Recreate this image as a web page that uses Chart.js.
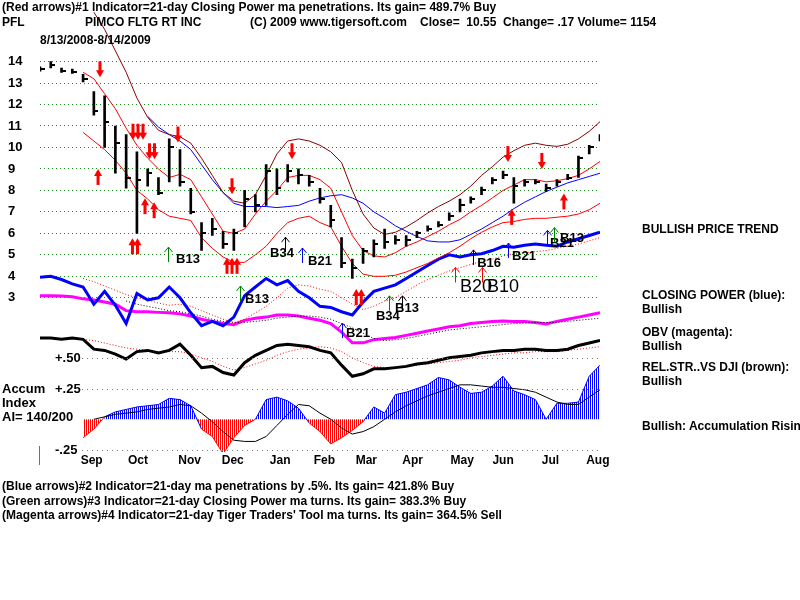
<!DOCTYPE html>
<html>
<head>
<meta charset="utf-8">
<script src="https://cdn.jsdelivr.net/npm/chart.js@4/dist/chart.umd.min.js"></script>
<style>
body { margin: 0; background: #fff; }
#wrap { position: relative; width: 800px; height: 600px; overflow: hidden; font: bold 12px "Liberation Sans", Arial, sans-serif; color: #000; }
#wrap canvas { position: absolute; left: 0; top: 0; }
.t { position: absolute; white-space: pre; line-height: 13px; }
.big { font-size: 13px; line-height: 14px; }
</style>
</head>
<body>
<div id="wrap">
<canvas id="chart" width="800" height="600"></canvas>
<div class="t" style="left:2px;top:1px">(Red arrows)#1 Indicator=21-day Closing Power ma penetrations. Its gain= 489.7% Buy</div>
<div class="t" style="left:2px;top:16px">PFL</div>
<div class="t" style="left:85px;top:16px">PIMCO FLTG RT INC</div>
<div class="t" style="left:250px;top:16px">(C) 2009 www.tigersoft.com</div>
<div class="t" style="left:420px;top:16px">Close=  10.55  Change= .17 Volume= 1154</div>
<div class="t" style="left:40px;top:34px">8/13/2008-8/14/2009</div>

<div class="t" style="left:642px;top:223px">BULLISH PRICE TREND</div>
<div class="t" style="left:642px;top:289px">CLOSING POWER (blue):</div>
<div class="t" style="left:642px;top:303px">Bullish</div>
<div class="t" style="left:642px;top:326px">OBV (magenta):</div>
<div class="t" style="left:642px;top:340px">Bullish</div>
<div class="t" style="left:642px;top:361px">REL.STR..VS DJI (brown):</div>
<div class="t" style="left:642px;top:375px">Bullish</div>
<div class="t" style="left:642px;top:420px">Bullish: Accumulation Rising</div>

<div class="t big" style="left:2px;top:382px">Accum</div>
<div class="t big" style="left:2px;top:396px">Index</div>
<div class="t big" style="left:2px;top:410px">AI= 140/200</div>
<div style="position:absolute;left:39px;top:446px;width:1px;height:19px;background:#808000"></div>

<div class="t" style="left:2px;top:480px">(Blue arrows)#2 Indicator=21-day ma penetrations by .5%. Its gain= 421.8% Buy</div>
<div class="t" style="left:2px;top:495px">(Green arrows)#3 Indicator=21-day Closing Power ma turns. Its gain= 383.3% Buy</div>
<div class="t" style="left:2px;top:509px">(Magenta arrows)#4 Indicator=21-day Tiger Traders' Tool ma turns. Its gain= 364.5% Sell</div>
</div>

<script>
Chart.defaults.font.family = '"Liberation Sans", Arial, sans-serif';

// week index from 8/13/2008 to 8/12/2009
const weeks = [0,1,2,3,4,5,6,7,8,9,10,11,12,13,14,15,16,17,18,19,20,21,22,23,24,25,26,
  27,28,29,30,31,32,33,34,35,36,37,38,39,40,41,42,43,44,45,46,47,48,49,50,51,52]
const monthNames = ['Sep','Oct','Nov','Dec','Jan','Feb','Mar','Apr','May','Jun','Jul','Aug']
const monthPos = [4.8, 9.1, 13.9, 17.9, 22.3, 26.4, 30.3, 34.6, 39.2, 43.0, 47.4, 51.8]
const priceTicks = [3,4,5,6,7,8,9,10,11,12,13,14]

const priceHigh = [13.75,14.0,13.7,13.65,13.4,12.6,12.4,11.0,10.6,9.8,9.0,8.6,10.4,9.9,8.1,6.5,6.7,6.1,6.2,8.0,7.8,9.2,9.0,9.2,9.0,8.7,
  8.1,7.3,5.8,4.8,5.3,5.7,6.2,5.9,5.9,6.1,6.35,6.55,6.95,7.6,7.7,8.15,8.6,8.9,8.6,8.5,8.5,8.3,8.5,8.75,9.6,10.1,10.6]
const priceLow = [13.55,13.7,13.5,13.45,13.05,11.5,10.0,8.8,8.1,6.0,8.2,7.8,8.4,8.2,6.9,5.2,5.9,5.3,5.2,6.3,7.0,7.3,7.8,8.4,8.3,8.2,
  7.4,6.3,4.4,3.9,4.6,4.9,5.3,5.5,5.4,5.8,6.1,6.3,6.6,7.0,7.4,7.8,8.3,8.55,7.4,8.2,8.3,7.95,8.2,8.5,8.6,9.7,10.3]
const priceClose = [13.65,13.85,13.55,13.5,13.2,11.7,11.2,10.2,8.6,8.5,8.8,7.9,10.0,8.4,7.0,6.0,6.2,5.5,6.0,7.6,7.3,8.9,8.1,8.9,8.7,8.4,
  7.6,6.6,4.6,4.4,5.2,5.5,5.6,5.7,5.7,6.0,6.2,6.4,6.8,7.3,7.6,8.0,8.5,8.7,8.2,8.4,8.4,8.1,8.4,8.6,9.5,10.0,10.55]

const upperBand = [null,null,null,null,null,16.3,15.5,14.5,13.5,12.3,11.4,10.8,10.6,10.5,10.2,9.5,8.7,7.9,7.5,7.4,7.8,8.7,9.7,10.3,10.4,10.3,
  10.1,9.8,9.3,8.0,6.9,6.25,5.95,6.05,6.3,6.6,6.95,7.25,7.5,7.8,8.2,8.7,9.1,9.55,9.85,10.1,10.2,10.1,10.05,10.15,10.4,10.75,11.2]
const midBand = [null,null,null,null,13.5,13.2,12.5,11.8,10.9,10.1,9.5,9.0,8.6,8.75,8.5,7.7,6.9,6.1,6.0,6.2,6.9,7.5,8.0,8.6,8.7,8.7,
  8.5,8.1,7.0,5.9,5.2,4.95,4.9,5.1,5.4,5.6,5.85,6.1,6.4,6.65,7.0,7.3,7.65,8.0,8.25,8.5,8.5,8.4,8.45,8.55,8.7,9.0,9.35]
const lowBand = [null,null,null,null,10.7,10.3,9.9,9.4,8.8,8.0,7.6,7.1,6.8,6.7,6.6,5.8,5.3,4.9,4.65,4.65,5.0,5.4,6.0,6.5,6.7,6.8,
  6.5,6.3,5.4,4.6,4.1,4.0,4.0,4.05,4.2,4.4,4.6,4.85,5.1,5.4,5.75,6.05,6.3,6.5,6.55,6.65,6.7,6.7,6.75,6.8,6.9,7.1,7.4]
const priceMA = [null,null,null,null,null,null,null,null,null,null,11.45,10.95,10.6,10.3,9.9,9.2,8.5,7.9,7.4,7.25,7.25,7.25,7.2,7.25,7.3,7.5,
  7.65,7.75,7.8,7.65,7.4,7.0,6.7,6.35,6.1,5.85,5.65,5.6,5.6,5.7,5.95,6.2,6.5,6.8,7.15,7.45,7.7,7.95,8.15,8.35,8.5,8.65,8.8]

const closingPower = [3.95,4.0,3.85,3.65,3.5,2.7,3.3,2.65,1.8,3.2,2.9,3.0,3.5,3.0,2.3,1.7,1.9,1.7,2.1,3.1,3.5,3.9,3.6,3.8,3.3,3.0,
  2.6,2.55,2.35,2.2,2.8,3.3,3.45,3.6,3.9,4.2,4.5,4.8,5.0,4.9,5.0,5.05,5.2,5.4,5.35,5.45,5.5,5.45,5.4,5.6,5.75,5.9,6.05]
const closingPowerMA = [null,null,null,null,3.9,3.75,3.55,3.35,3.15,3.0,2.9,2.75,2.65,2.7,2.6,2.4,2.2,2.0,1.85,2.0,2.3,2.6,3.0,3.45,3.6,3.55,
  3.4,3.3,3.0,2.7,2.45,2.6,2.85,3.0,3.3,3.6,3.85,4.05,4.25,4.4,4.55,4.7,4.8,4.95,5.05,5.1,5.15,5.2,5.3,5.4,5.5,5.65,5.8]
const obv = [3.1,3.1,3.08,3.05,2.95,2.9,2.8,2.7,2.4,2.35,2.35,2.32,2.3,2.25,2.15,2.0,1.9,1.8,1.75,1.95,2.05,2.1,2.2,2.2,2.15,2.05,
  1.95,1.8,1.4,0.9,0.9,1.05,1.1,1.15,1.25,1.35,1.45,1.55,1.65,1.7,1.8,1.85,1.9,1.92,1.9,1.9,1.85,1.78,1.9,2.0,2.1,2.2,2.3]
const obvMA = [null,null,null,null,null,null,null,null,2.85,2.7,2.6,2.5,2.4,2.35,2.25,2.15,2.0,1.9,1.85,1.85,1.9,1.95,2.05,2.1,2.15,2.15,
  2.1,2.0,1.8,1.6,1.35,1.1,1.0,1.05,1.1,1.2,1.3,1.4,1.5,1.55,1.6,1.65,1.7,1.75,1.8,1.82,1.85,1.85,1.85,1.9,1.95,2.0,2.05]

const relStr = [0.66,0.66,0.65,0.66,0.65,0.57,0.56,0.53,0.49,0.55,0.56,0.54,0.56,0.61,0.52,0.42,0.43,0.38,0.36,0.46,0.52,0.56,0.6,0.61,0.6,0.59,
  0.56,0.54,0.44,0.35,0.37,0.41,0.41,0.42,0.43,0.45,0.46,0.48,0.5,0.51,0.52,0.54,0.55,0.56,0.56,0.57,0.57,0.56,0.56,0.57,0.6,0.62,0.64]
const relStrMA = [null,null,null,null,0.65,0.64,0.62,0.6,0.58,0.57,0.56,0.55,0.55,0.55,0.53,0.5,0.47,0.43,0.4,0.42,0.45,0.48,0.52,0.55,0.57,0.58,
  0.59,0.58,0.55,0.5,0.46,0.43,0.42,0.42,0.43,0.44,0.45,0.46,0.47,0.48,0.5,0.51,0.52,0.53,0.54,0.54,0.55,0.55,0.55,0.56,0.57,0.58,0.59]
const accum = [null,null,null,null,-0.15,-0.08,0.02,0.06,0.08,0.1,0.11,0.12,0.17,0.16,0.11,-0.08,-0.14,-0.28,-0.15,-0.05,0.0,0.16,0.18,0.15,0.09,-0.03,
  -0.1,-0.2,-0.15,-0.09,-0.02,0.1,0.05,0.2,0.22,0.25,0.28,0.34,0.32,0.26,0.21,0.22,0.27,0.35,0.23,0.2,0.16,0.0,0.13,0.13,0.14,0.35,0.44]
const accumMA = [null,null,null,null,null,0.0,0.02,0.04,0.05,0.06,0.08,0.09,0.1,0.12,0.11,0.05,-0.02,-0.1,-0.17,-0.18,-0.18,-0.14,-0.05,0.04,0.12,0.11,
  0.05,0.0,-0.07,-0.12,-0.1,-0.06,0.0,0.06,0.11,0.15,0.19,0.22,0.25,0.28,0.28,0.27,0.26,0.26,0.25,0.24,0.22,0.18,0.14,0.12,0.12,0.18,0.24]
const accLevels = [0.5, 0.25, -0.25]
const accLevelLabels = ['+.50', '+.25', '-.25']

// red arrows (#1 indicator): week, tip price, direction, how many
const redArrowWeek = [5.57, 5.39, 9.1, 10.4, 9.75, 10.6, 8.82, 12.81, 17.83, 17.83, 23.4, 29.6, 43.45, 46.6, 43.8, 48.65]
const redArrowTip = [13.27, 9.0, 10.36, 9.45, 7.64, 7.45, 5.77, 10.23, 7.82, 4.86, 9.45, 3.41, 9.32, 9.0, 7.14, 7.86]
const redArrowDir = ['down','up','down','down','up','up','up','down','down','up','down','up','down','down','up','up']
const redArrowCount = [1,1,3,2,1,1,2,1,1,3,1,2,1,1,1,1]

// signal arrows with names
const sigWeek = [11.88, 22.75, 24.33, 18.57, 28.04, 32.4, 33.6, 40.2, 43.45, 47.08, 47.72, 38.5, 41.0]
const sigTip = [5.36, 5.82, 5.32, 3.55, 1.82, 3.09, 3.09, 5.23, 5.55, 6.14, 6.27, 4.41, 4.41]
const sigKind = ['G','K','B','G','B','G','K','K','B','B','G','R','R']
const sigText = ['B13','B34','B21','B13','B21','B34','B13','B16','B21','B21','B13','B20','B10']
const sigTextWeek = [13.74, 22.47, 26.0, 20.15, 29.53, 32.3, 34.08, 41.7, 44.94, 48.47, 49.4, 40.48, 43.0]
const sigTextAt = [4.77, 5.05, 4.68, 2.91, 1.32, 2.14, 2.5, 4.59, 4.91, 5.55, 5.77, 3.5, 3.5]

const kindColor = { G: '#008000', K: '#000000', B: '#0000ff', R: '#ff0000' }

function stripes(color) {
  const c = document.createElement('canvas')
  c.width = 2; c.height = 1
  const g = c.getContext('2d')
  g.fillStyle = color
  g.fillRect(0, 0, 1, 1)
  return g.createPattern(c, 'repeat')
}

function closeTick() {
  const c = document.createElement('canvas')
  c.width = 9; c.height = 2
  const g = c.getContext('2d')
  g.fillStyle = '#000'
  g.fillRect(4, 0, 5, 2)
  return c
}

const pts = arr => weeks.map((w, i) => ({ x: w, y: arr[i] }))

function lineSet(arr, color, width, axis, dash) {
  return {
    type: 'line', data: pts(arr), yAxisID: axis, borderColor: color, borderWidth: width,
    borderDash: dash || [], pointRadius: 0, tension: 0, fill: false, spanGaps: false
  }
}

function drawRedArrow(ctx, x, tip, dir, n) {
  ctx.fillStyle = '#ff0000'
  for (let k = 0; k < n; k++) {
    const cx = x + (k - (n - 1) / 2) * 5
    const s = dir === 'up' ? 1 : -1
    ctx.fillRect(cx - 1.5, dir === 'up' ? tip + 5 : tip - 16, 3, 11)
    ctx.beginPath()
    ctx.moveTo(cx, tip)
    ctx.lineTo(cx - 4, tip + s * 7)
    ctx.lineTo(cx + 4, tip + s * 7)
    ctx.closePath()
    ctx.fill()
  }
}

const overlay = {
  id: 'overlay',
  afterDatasetsDraw(chart) {
    const { ctx } = chart
    const x = chart.scales.x, y = chart.scales.y, acc = chart.scales.acc
    ctx.save()
    // accumulation levels
    ctx.strokeStyle = '#777'
    ctx.lineWidth = 1
    ctx.setLineDash([1, 4])
    ctx.font = 'bold 13px "Liberation Sans", Arial, sans-serif'
    ctx.textBaseline = 'middle'
    accLevels.forEach((v, i) => {
      const py = Math.round(acc.getPixelForValue(v)) + 0.5
      ctx.beginPath()
      ctx.moveTo(x.getPixelForValue(3.9), py)
      ctx.lineTo(x.getPixelForValue(52), py)
      ctx.stroke()
      ctx.fillStyle = '#000'
      ctx.textAlign = 'left'
      ctx.fillText(accLevelLabels[i], x.getPixelForValue(0) + 15, py)
    })
    ctx.setLineDash([])
    // red arrows
    redArrowWeek.forEach((w, i) => {
      drawRedArrow(ctx, x.getPixelForValue(w), y.getPixelForValue(redArrowTip[i]), redArrowDir[i], redArrowCount[i])
    })
    // signal arrows and names
    sigWeek.forEach((w, i) => {
      const px = Math.round(x.getPixelForValue(w)) + 0.5
      const py = y.getPixelForValue(sigTip[i])
      ctx.strokeStyle = kindColor[sigKind[i]]
      ctx.lineWidth = 1
      ctx.beginPath()
      ctx.moveTo(px, py + 15)
      ctx.lineTo(px, py)
      ctx.moveTo(px - 4, py + 5)
      ctx.lineTo(px, py)
      ctx.lineTo(px + 4, py + 5)
      ctx.stroke()
      ctx.fillStyle = '#000'
      ctx.textAlign = 'center'
      ctx.font = sigKind[i] === 'R' ? '18px "Liberation Sans", Arial, sans-serif' : 'bold 13px "Liberation Sans", Arial, sans-serif'
      ctx.fillText(sigText[i], x.getPixelForValue(sigTextWeek[i]), y.getPixelForValue(sigTextAt[i]))
    })
    ctx.restore()
  }
}

const ctx = document.getElementById('chart').getContext('2d')
new Chart(ctx, {
  data: {
    datasets: [
      {
        type: 'line', data: pts(priceClose), yAxisID: 'y', showLine: false,
        pointStyle: closeTick(), pointRadius: 4, pointHoverRadius: 4
      },
      {
        type: 'bar', data: weeks.map((w, i) => ({ x: w, y: [priceLow[i], priceHigh[i]] })), yAxisID: 'y',
        backgroundColor: '#000', barThickness: 2, grouped: false
      },
      lineSet(upperBand, '#8b0000', 1, 'y'),
      lineSet(midBand, '#ff0000', 1, 'y'),
      lineSet(lowBand, '#ff0000', 1, 'y'),
      lineSet(priceMA, '#0000ff', 1, 'y'),
      lineSet(closingPower, '#0000ff', 3, 'y'),
      lineSet(closingPowerMA, '#ff0000', 1, 'y', [1, 2]),
      lineSet(obvMA, '#000000', 1, 'y', [1, 2]),
      lineSet(obv, '#ff00ff', 3, 'y'),
      lineSet(relStr, '#000000', 3, 'acc'),
      lineSet(relStrMA, '#ff0000', 1, 'acc', [1, 2]),
      lineSet(accumMA, '#000000', 1, 'acc'),
      {
        type: 'line', data: pts(accum), yAxisID: 'acc', borderWidth: 1, pointRadius: 0, tension: 0,
        borderColor: '#0000ff',
        segment: { borderColor: c => (c.p0.parsed.y + c.p1.parsed.y) / 2 < 0 ? '#ff0000' : '#0000ff' },
        fill: { target: { value: 0 }, above: stripes('#0000ff'), below: stripes('#ff0000') }
      }
    ]
  },
  options: {
    responsive: false,
    animation: false,
    events: [],
    layout: { padding: { left: 8, right: 200, top: 0, bottom: 128 } },
    plugins: { legend: { display: false }, tooltip: { enabled: false }, title: { display: false } },
    scales: {
      x: {
        type: 'linear', min: 0, max: 52, offset: false,
        afterBuildTicks: axis => { axis.ticks = monthPos.map(v => ({ value: v })) },
        afterFit: axis => { axis.height = 20 },
        ticks: {
          autoSkip: false, maxRotation: 0, padding: 1, color: '#000',
          font: { size: 12, weight: 'bold' },
          callback: (v, i) => monthNames[i]
        },
        grid: { display: false, drawTicks: false, offset: false },
        border: { display: false }
      },
      y: {
        position: 'left', min: -4.182, max: 16.364,
        afterBuildTicks: axis => { axis.ticks = priceTicks.map(v => ({ value: v })) },
        afterFit: axis => { axis.width = 32 },
        ticks: { crossAlign: 'far', color: '#000', font: { size: 13, weight: 'bold' } },
        grid: { color: '#1a8c1a', lineWidth: 1, drawTicks: false },
        border: { display: false, dash: [1, 3] }
      },
      acc: {
        display: false, position: 'right', min: -0.266, max: 3.321
      }
    }
  },
  plugins: [overlay]
})
</script>
</body>
</html>
